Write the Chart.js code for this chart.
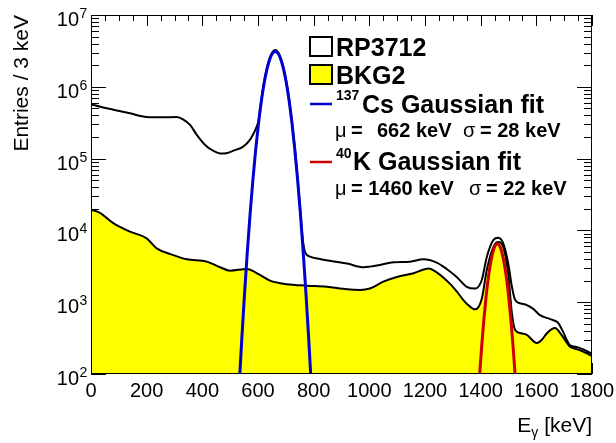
<!DOCTYPE html>
<html><head><meta charset="utf-8">
<script src="https://cdn.jsdelivr.net/npm/chart.js@4"></script>
<style>html,body{margin:0;padding:0;background:#fff;overflow:hidden}</style>
</head><body>
<canvas id="c" width="616" height="443"></canvas>
<script>
// ---- data (keV, entries / 3 keV) ----
const rpEnergy = [0,40,80,140,200,260,308,332,356,380,416,440,464,490,512,547,571,583,592,602,612,622,632,642,652,662,672,682,692,702,712,722,732,742,752,760,769,787,823,872,920,980,1002,1038,1087,1146,1194,1242,1278,1314,1350,1380,1404,1422,1446,1463,1481,1499,1512,1524,1545,1566,1590,1613,1640,1661,1679,1697,1709,1721,1740,1757,1780,1800];
const rpCounts = [5.7e5,5.2e5,4.8e5,4.27e5,3.8e5,3.76e5,3.8e5,3.5e5,2.95e5,2.14e5,1.47e5,1.28e5,1.18e5,1.2e5,1.29e5,1.47e5,1.82e5,2.2e5,2.6e5,3.4e5,6.6e5,1.17e6,1.83e6,2.52e6,3.05e6,3.25e6,3.05e6,2.52e6,1.83e6,1.17e6,6.6e5,3.3e5,1.45e5,5.6e4,1.9e4,8000,5000,4300,4000,3700,3450,3070,3130,3300,3600,3670,3960,3560,2900,2240,1640,1550,2040,4270,7400,7900,6600,3470,1660,1070,960,910,800,660,600,560,513,380,300,251,240,229,210,190];

const bkgEnergy = [0,32,80,140,200,236,284,344,416,464,499,560,607,643,704,775,847,920,967,1002,1050,1099,1159,1213,1242,1290,1314,1338,1350,1380,1404,1422,1446,1463,1481,1499,1512,1524,1545,1566,1602,1620,1638,1667,1691,1721,1740,1757,1780,1800];
const bkgCounts = [1.95e4,1.76e4,1.26e4,9600,7760,5620,4700,3960,3670,3070,2750,2900,2400,2000,1780,1700,1640,1510,1480,1550,1930,2240,2530,2950,2600,1800,1410,1070,955,795,1120,2820,5900,6900,5900,2510,710,410,370,350,270,300,370,436,347,240,225,214,195,178];

// Gaussian fit curves (Cs-137: mu 662, sigma 28; K-40: mu 1460, sigma 22)
const csFitEnergy = [532,542,552,562,572,582,592,602,612,622,632,642,652,662,672,682,692,702,712,722,732,742,752,762,772,782,792];
const csFitCounts = [64.6,318,1380,5270,17700,52330,136200,312100,629300,1117000,1746000,2402000,2908000,3100000,2908000,2402000,1746000,1117000,629300,312100,136200,52330,17700,5270,1380,318,64.6];
const kFitEnergy = [1388,1396,1404,1412,1420,1428,1436,1444,1452,1460,1468,1476,1484,1492,1500,1508,1516,1524,1532];
const kFitCounts = [30.7,94.5,255,602,1245,2257,3586,4989,6084,6500,6084,4989,3586,2257,1245,602,255,94.5,30.7];

const xTickValues = [0,200,400,600,800,1000,1200,1400,1600,1800];
const yTickExponents = [2,3,4,5,6,7];
const seriesNames = ['RP3712','BKG2'];
const csParams = {mu:662, sigma:28};
const kParams = {mu:1460, sigma:22};

const FONT = '"Liberation Sans", Arial, Helvetica, sans-serif';
const pts = (xs, ys) => xs.map((x,i)=>({x:x, y:ys[i]}));

const axesPlugin = {
  id:'rootAxes',
  beforeDatasetsDraw(chart){
    const {ctx, chartArea:a, scales:{x,y}} = chart;
    ctx.save();
    ctx.strokeStyle='#000'; ctx.lineWidth=1;
    ctx.beginPath();
    for(let v=0; v<=1800; v+=50){
      const px = Math.round(x.getPixelForValue(v))+0.5;
      const len = (v%200===0)?11:6;
      ctx.moveTo(px,a.bottom); ctx.lineTo(px,a.bottom-len);
      ctx.moveTo(px,a.top); ctx.lineTo(px,a.top+len);
    }
    for(let d=2; d<=7; d++){
      for(let m=1; m<=9; m++){
        const v = m*Math.pow(10,d);
        if(v>1e7) break;
        const py = Math.round(y.getPixelForValue(v))+0.5;
        const len = (m===1)?15:8;
        ctx.moveTo(a.left,py); ctx.lineTo(a.left+len,py);
        ctx.moveTo(a.right,py); ctx.lineTo(a.right-len,py);
      }
    }
    ctx.stroke();
    ctx.restore();
  },
  afterDatasetsDraw(chart){
    const {ctx, chartArea:a, scales:{x,y}} = chart;
    ctx.save();
    ctx.strokeStyle='#000'; ctx.lineWidth=1;
    ctx.strokeRect(a.left+0.5,a.top+0.5,a.right-a.left-1,a.bottom-a.top-1);
    ctx.fillStyle='#000';
    ctx.font='20px '+FONT; ctx.textAlign='center'; ctx.textBaseline='alphabetic';
    xTickValues.forEach(v=>{ ctx.fillText(String(v), x.getPixelForValue(v), 397); });
    yTickExponents.forEach(e=>{
      const py = y.getPixelForValue(Math.pow(10,e));
      ctx.font='20px '+FONT; ctx.textAlign='right';
      ctx.fillText('10', 79, py+11);
      ctx.font='14px '+FONT; ctx.textAlign='left';
      ctx.fillText(String(e), 79.5, py+3);
    });
    ctx.save();
    ctx.translate(28, a.top); ctx.rotate(-Math.PI/2);
    ctx.font='21px '+FONT; ctx.textAlign='right';
    ctx.fillText('Entries / 3 keV', 0, 0);
    ctx.restore();
    ctx.textAlign='left';
    ctx.font='21px '+FONT; const wE = ctx.measureText('E').width;
    const wK = ctx.measureText(' [keV]').width;
    ctx.font='14px '+FONT; const wG = ctx.measureText('γ').width;
    let sx = a.right - (wE+wG+wK);
    ctx.font='21px '+FONT; ctx.fillText('E', sx, 432);
    ctx.font='14px '+FONT; ctx.fillText('γ', sx+wE, 437);
    ctx.font='21px '+FONT; ctx.fillText(' [keV]', sx+wE+wG, 432);

    // legend
    ctx.lineWidth=2; ctx.strokeStyle='#000';
    ctx.fillStyle='#fff'; ctx.fillRect(310,37,22,19); ctx.strokeRect(310,37,22,19);
    ctx.fillStyle='#ffff00'; ctx.fillRect(310,65,22,19); ctx.strokeRect(310,65,22,19);
    ctx.lineWidth=2.5;
    ctx.strokeStyle='#0000d0'; ctx.beginPath(); ctx.moveTo(310,104); ctx.lineTo(332,104); ctx.stroke();
    ctx.strokeStyle='#cc0000'; ctx.beginPath(); ctx.moveTo(310,162); ctx.lineTo(332,162); ctx.stroke();
    ctx.fillStyle='#000'; ctx.textAlign='left';
    ctx.font='bold 25px '+FONT;
    ctx.fillText(seriesNames[0], 336, 56);
    ctx.fillText(seriesNames[1], 336, 84);
    ctx.fillText('Cs Gaussian fit', 362, 113);
    ctx.fillText('K Gaussian fit', 353, 170);
    ctx.font='bold 14px '+FONT;
    ctx.fillText('137', 336, 100);
    ctx.fillText('40', 336, 158);
    ctx.font='20px '+FONT; ctx.fillText('μ', 335, 137);
    ctx.font='bold 20px '+FONT; ctx.fillText('=', 351, 137);
    ctx.fillText(csParams.mu+' keV', 377, 137);
    ctx.font='20px '+FONT; ctx.fillText('σ', 463, 137);
    ctx.font='bold 20px '+FONT; ctx.fillText('= '+csParams.sigma+' keV', 480, 137);
    ctx.font='20px '+FONT; ctx.fillText('μ', 335, 195);
    ctx.font='bold 20px '+FONT; ctx.fillText('= '+kParams.mu+' keV', 351, 195);
    ctx.font='20px '+FONT; ctx.fillText('σ', 469, 195);
    ctx.font='bold 20px '+FONT; ctx.fillText('= '+kParams.sigma+' keV', 486, 195);
    ctx.restore();
  }
};

new Chart(document.getElementById('c').getContext('2d'), {
  type:'line',
  data:{datasets:[
    {label:'137Cs Gaussian fit', data:pts(csFitEnergy,csFitCounts), borderColor:'#0000d0', borderWidth:3, fill:false, cubicInterpolationMode:'monotone', order:0},
    {label:'40K Gaussian fit', data:pts(kFitEnergy,kFitCounts), borderColor:'#cc0000', borderWidth:3, fill:false, cubicInterpolationMode:'monotone', order:0},
    {label:seriesNames[0], data:pts(rpEnergy,rpCounts), borderColor:'#000', borderWidth:2, fill:false, cubicInterpolationMode:'monotone', order:1},
    {label:seriesNames[1], data:pts(bkgEnergy,bkgCounts), borderColor:'#000', borderWidth:2, backgroundColor:'#ffff00', fill:'start', cubicInterpolationMode:'monotone', order:2}
  ]},
  options:{
    responsive:false, animation:false,
    layout:{padding:{left:91,right:24,top:15,bottom:69}},
    elements:{point:{radius:0, hoverRadius:0}},
    plugins:{legend:{display:false}, tooltip:{enabled:false}},
    scales:{
      x:{type:'linear', min:0, max:1800, display:false},
      y:{type:'logarithmic', min:100, max:1e7, display:false}
    }
  },
  plugins:[axesPlugin]
});
</script>
</body></html>
